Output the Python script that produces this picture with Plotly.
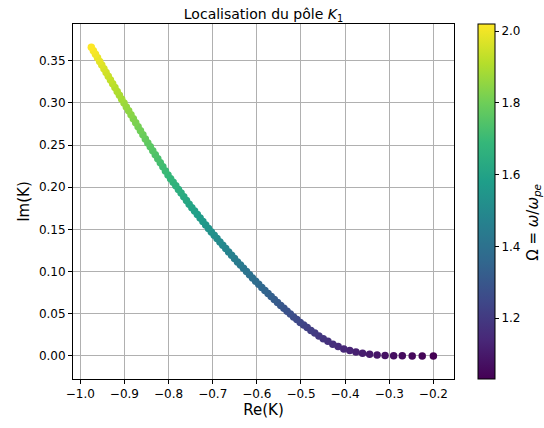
import plotly.graph_objects as go

# Omega = omega / omega_pe for each point
omega = [1.03, 1.04, 1.05, 1.06, 1.07, 1.08, 1.09, 1.10, 1.11, 1.12,
         1.13, 1.14, 1.15, 1.16, 1.17, 1.18, 1.19, 1.20, 1.21, 1.22,
         1.23, 1.24, 1.25, 1.26, 1.27, 1.28, 1.29, 1.30, 1.31, 1.32,
         1.33, 1.34, 1.35, 1.36, 1.37, 1.38, 1.39, 1.40, 1.41, 1.42,
         1.43, 1.44, 1.45, 1.46, 1.47, 1.48, 1.49, 1.50, 1.51, 1.52,
         1.53, 1.54, 1.55, 1.56, 1.57, 1.58, 1.59, 1.60, 1.61, 1.62,
         1.63, 1.64, 1.65, 1.66, 1.67, 1.68, 1.69, 1.70, 1.71, 1.72,
         1.73, 1.74, 1.75, 1.76, 1.77, 1.78, 1.79, 1.80, 1.81, 1.82,
         1.83, 1.84, 1.85, 1.86, 1.87, 1.88, 1.89, 1.90, 1.91, 1.92,
         1.93, 1.94, 1.95, 1.96, 1.97, 1.98, 1.99, 2.00, 2.01, 2.02]

# Re(K) of the pole K1
re_k = [-0.2000, -0.2253, -0.2480, -0.2705, -0.2900, -0.3095, -0.3275, -0.3445, -0.3605, -0.3755,
        -0.3895, -0.4030, -0.4158, -0.4278, -0.4390, -0.4495, -0.4594, -0.4687, -0.4775, -0.4859,
        -0.4939, -0.5017, -0.5093, -0.5167, -0.5241, -0.5314, -0.5387, -0.5459, -0.5532, -0.5604,
        -0.5675, -0.5746, -0.5817, -0.5888, -0.5958, -0.6027, -0.6097, -0.6166, -0.6234, -0.6303,
        -0.6371, -0.6438, -0.6506, -0.6572, -0.6639, -0.6705, -0.6771, -0.6836, -0.6902, -0.6966,
        -0.7031, -0.7095, -0.7159, -0.7222, -0.7285, -0.7348, -0.7410, -0.7472, -0.7533, -0.7594,
        -0.7655, -0.7716, -0.7776, -0.7836, -0.7895, -0.7954, -0.8013, -0.8071, -0.8129, -0.8187,
        -0.8244, -0.8301, -0.8358, -0.8414, -0.8470, -0.8526, -0.8581, -0.8636, -0.8690, -0.8744,
        -0.8798, -0.8851, -0.8904, -0.8957, -0.9009, -0.9061, -0.9113, -0.9164, -0.9215, -0.9266,
        -0.9316, -0.9366, -0.9415, -0.9464, -0.9513, -0.9561, -0.9609, -0.9656, -0.9703, -0.9750]

# Im(K) of the pole K1
im_k = [0.0000, 0.0000, 0.0001, 0.0002, 0.0003, 0.0007, 0.0012, 0.0021, 0.0033, 0.0046,
        0.0064, 0.0084, 0.0112, 0.0140, 0.0173, 0.0204, 0.0238, 0.0271, 0.0303, 0.0336,
        0.0366, 0.0397, 0.0431, 0.0463, 0.0496, 0.0530, 0.0565, 0.0599, 0.0634, 0.0670,
        0.0705, 0.0740, 0.0777, 0.0813, 0.0849, 0.0885, 0.0924, 0.0963, 0.1001, 0.1040,
        0.1078, 0.1115, 0.1154, 0.1193, 0.1233, 0.1273, 0.1313, 0.1352, 0.1391, 0.1430,
        0.1470, 0.1512, 0.1553, 0.1594, 0.1635, 0.1676, 0.1717, 0.1757, 0.1799, 0.1843,
        0.1887, 0.1931, 0.1974, 0.2017, 0.2059, 0.2102, 0.2146, 0.2194, 0.2242, 0.2290,
        0.2338, 0.2385, 0.2432, 0.2479, 0.2525, 0.2573, 0.2621, 0.2670, 0.2717, 0.2765,
        0.2812, 0.2859, 0.2906, 0.2952, 0.2998, 0.3044, 0.3091, 0.3136, 0.3182, 0.3228,
        0.3272, 0.3317, 0.3361, 0.3404, 0.3448, 0.3491, 0.3534, 0.3576, 0.3618, 0.3660]

x_ticks = [-1.0, -0.9, -0.8, -0.7, -0.6, -0.5, -0.4, -0.3, -0.2]
y_ticks = [0.00, 0.05, 0.10, 0.15, 0.20, 0.25, 0.30, 0.35]
cb_ticks = [1.2, 1.4, 1.6, 1.8, 2.0]

FONT = "DejaVu Sans"
BLACK = "#000000"

fig = go.Figure(
    go.Scatter(
        x=re_k, y=im_k, mode="markers",
        marker=dict(
            size=7.5, color=omega, colorscale="Viridis",
            cmin=1.03, cmax=2.02, line=dict(width=0),
            showscale=True,
            colorbar=dict(
                thickness=17, thicknessmode="pixels",
                len=1, lenmode="fraction",
                x=1.0638, xanchor="left", y=0.5, yanchor="middle",
                xpad=0, ypad=0,
                outlinewidth=1, outlinecolor=BLACK,
                ticks="outside", ticklen=4, tickwidth=1, tickcolor=BLACK,
                tickvals=cb_ticks, ticktext=[f"{v:.1f}" for v in cb_ticks],
                tickfont=dict(family=FONT, size=12, color=BLACK),
            ),
        ),
        showlegend=False,
        hoverinfo="skip",
    )
)

axis_common = dict(
    showgrid=True, gridcolor="#b0b0b0", gridwidth=1,
    zeroline=False,
    showline=True, linecolor=BLACK, linewidth=1, mirror=True,
    ticks="outside", ticklen=4, tickwidth=1, tickcolor=BLACK,
    tickfont=dict(family=FONT, size=12, color=BLACK),
)

fig.update_xaxes(
    range=[-1.0165, -0.1533],
    tickvals=x_ticks, ticktext=[f"{v:.1f}".replace("-", "\u2212") for v in x_ticks],
    title=dict(text="Re(K)", font=dict(family=FONT, size=15, color=BLACK), standoff=3),
    **axis_common,
)
fig.update_yaxes(
    range=[-0.0273, 0.3935],
    tickvals=y_ticks, ticktext=[f"{v:.2f}" for v in y_ticks],
    title=dict(text="Im(K)", font=dict(family=FONT, size=15, color=BLACK), standoff=5),
    **axis_common,
)

fig.add_annotation(
    text="Ω = <i>ω</i>/<i>ω</i><sub><i>pe</i></sub>",
    textangle=-90,
    xref="paper", yref="paper",
    x=1.21, y=0.44, xanchor="center", yanchor="middle",
    showarrow=False,
    font=dict(family=FONT, size=15, color=BLACK),
)

fig.update_layout(
    width=544, height=428,
    margin=dict(l=73, r=90, t=24, b=49),
    paper_bgcolor="white", plot_bgcolor="white",
    font=dict(family=FONT, color=BLACK),
    title=dict(text="Localisation du pôle <i>K</i><sub>1</sub>",
               x=0.5, xref="paper", xanchor="center",
               y=1, yref="paper", yanchor="bottom", pad=dict(b=5),
               font=dict(family=FONT, size=14, color=BLACK)),
)

fig.write_html(
    "out.html",
    config={"displayModeBar": False},
    post_script="document.body.style.margin='0px'; document.body.style.overflow='hidden';",
)
